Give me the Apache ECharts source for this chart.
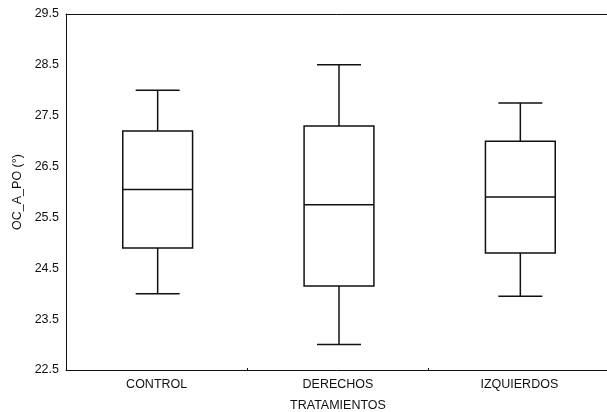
<!DOCTYPE html>
<html><head><meta charset="utf-8">
<script src="https://cdn.jsdelivr.net/npm/echarts@6/dist/echarts.min.js"></script>
<style>html,body{margin:0;padding:0;background:#fff}#c{width:607px;height:412px}</style>
</head><body><div id="c"></div>
<script>
const categories = ['CONTROL', 'DERECHOS', 'IZQUIERDOS'];
const mins    = [24.0, 23.0, 23.95];
const q1s     = [24.9, 24.15, 24.8];
const medians = [26.05, 25.75, 25.9];
const q3s     = [27.2, 27.3, 27.0];
const maxs    = [28.0, 28.5, 27.75];
const yTicks  = [22.5, 23.5, 24.5, 25.5, 26.5, 27.5, 28.5, 29.5];

const data = categories.map((c, i) => [i, mins[i], q1s[i], medians[i], q3s[i], maxs[i]]);
const chart = echarts.init(document.getElementById('c'));
const stroke = '#111';
const font = 'Liberation Sans, Arial, sans-serif';
chart.setOption({
  animation: false,
  grid: {left: 66, right: -3, top: 14, bottom: 42, outerBoundsMode: 'none', containLabel: false},
  xAxis: [{
    type: 'category', data: categories, position: 'bottom',
    axisLine: {lineStyle: {color: stroke, width: 1}},
    axisTick: {show: true, inside: true, length: 2, lineStyle: {color: stroke}},
    axisLabel: {color: '#111', fontSize: 12.5, fontFamily: font, margin: 8},
    name: 'TRATAMIENTOS', nameLocation: 'middle', nameGap: 29,
    nameTextStyle: {color: '#111', fontSize: 12.5, fontFamily: font}
  }, {
    type: 'category', data: categories, position: 'top',
    axisLine: {lineStyle: {color: stroke, width: 1}},
    axisTick: {show: false}, axisLabel: {show: false}
  }],
  yAxis: {
    type: 'value', min: 22.5, max: 29.5, interval: 1,
    axisLine: {show: true, lineStyle: {color: stroke, width: 1}},
    axisTick: {show: false},
    splitLine: {show: false},
    axisLabel: {color: '#111', fontSize: 12.5, fontFamily: font, margin: 7,
      formatter: v => yTicks.includes(+v.toFixed(1)) ? v.toFixed(1) : ''},
    name: 'OC_A_PO (°)', nameLocation: 'middle', nameGap: 40, nameRotate: 90,
    nameTextStyle: {color: '#111', fontSize: 12.5, fontFamily: font}
  },
  series: [{
    type: 'custom',
    data: data,
    renderItem: function (params, api) {
      const x = api.value(0);
      const bw = api.size([1, 0])[0] * 0.385;
      const cw = bw * 0.63;
      const pMin = api.coord([x, api.value(1)]);
      const pQ1 = api.coord([x, api.value(2)]);
      const pMed = api.coord([x, api.value(3)]);
      const pQ3 = api.coord([x, api.value(4)]);
      const pMax = api.coord([x, api.value(5)]);
      const cx = pMed[0] + 1;
      const st = {stroke: stroke, lineWidth: 1.5, fill: null};
      const line = (x1, y1, x2, y2) => ({type: 'line', shape: {x1, y1, x2, y2}, style: st});
      return {type: 'group', children: [
        {type: 'rect', shape: {x: cx - bw / 2, y: pQ3[1], width: bw, height: pQ1[1] - pQ3[1]}, style: {stroke: stroke, lineWidth: 1.5, fill: 'none'}},
        line(cx - bw / 2, pMed[1], cx + bw / 2, pMed[1]),
        line(cx, pQ3[1], cx, pMax[1]),
        line(cx, pQ1[1], cx, pMin[1]),
        line(cx - cw / 2, pMax[1], cx + cw / 2, pMax[1]),
        line(cx - cw / 2, pMin[1], cx + cw / 2, pMin[1])
      ]};
    }
  }]
});
</script></body></html>
